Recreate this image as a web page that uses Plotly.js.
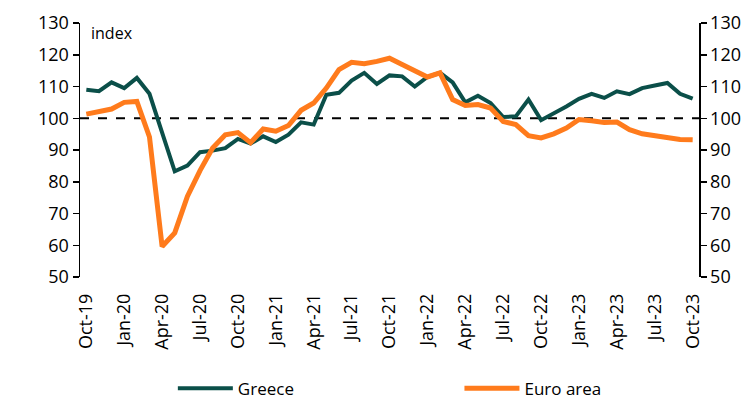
<!DOCTYPE html>
<html>
<head>
<meta charset="utf-8">
<script src="https://cdn.plot.ly/plotly-3.0.1.min.js"></script>
<style>html,body{margin:0;padding:0;background:#fff;}#chart{width:754px;height:403px;}</style>
</head>
<body>
<div id="chart"></div>
<script>
const months = ["Oct-19","Nov-19","Dec-19","Jan-20","Feb-20","Mar-20","Apr-20","May-20","Jun-20","Jul-20","Aug-20","Sep-20",
"Oct-20","Nov-20","Dec-20","Jan-21","Feb-21","Mar-21","Apr-21","May-21","Jun-21","Jul-21","Aug-21","Sep-21",
"Oct-21","Nov-21","Dec-21","Jan-22","Feb-22","Mar-22","Apr-22","May-22","Jun-22","Jul-22","Aug-22","Sep-22",
"Oct-22","Nov-22","Dec-22","Jan-23","Feb-23","Mar-23","Apr-23","May-23","Jun-23","Jul-23","Aug-23","Sep-23","Oct-23"];
const tickLabels = ["Oct-19","Jan-20","Apr-20","Jul-20","Oct-20","Jan-21","Apr-21","Jul-21","Oct-21","Jan-22","Apr-22","Jul-22","Oct-22","Jan-23","Apr-23","Jul-23","Oct-23"];
const greece = [109.0,108.5,111.3,109.5,112.7,107.7,95.5,83.3,85.1,89.3,89.8,90.6,
93.5,92.0,94.3,92.5,94.8,98.7,98.0,107.4,108.0,111.9,114.3,110.8,
113.5,113.2,110.0,113.0,114.3,111.3,105.0,107.1,104.8,100.4,100.6,105.9,
99.4,101.4,103.7,106.1,107.7,106.4,108.5,107.6,109.5,110.3,111.1,107.7,106.2];
const euroArea = [101.3,102.2,102.9,105.0,105.3,94.1,59.6,63.9,75.4,83.5,90.6,94.8,
95.5,92.3,96.6,95.9,97.7,102.5,104.8,109.5,115.3,117.6,117.2,117.9,
118.9,116.9,114.8,113.0,114.3,105.9,104.0,104.3,103.2,99.0,98.0,94.5,
93.8,95.1,96.9,99.6,99.2,98.7,98.8,96.4,95.1,94.5,93.6,93.3,93.2];
const yTicks = [50,60,70,80,90,100,110,120,130];

const FAM = "Open Sans, Noto Sans, sans-serif";
const font = {family: FAM, size: 18, color: "#000"};
const traces = [
  {x: months, y: greece, name: "Greece", type: "scatter", mode: "lines", legend: "legend",
   line: {color: "#0b4f49", width: 4}},
  {x: months, y: euroArea, name: "Euro area", type: "scatter", mode: "lines", legend: "legend2",
   line: {color: "#ff7b1c", width: 5}},
  {x: months, y: euroArea, yaxis: "y2", showlegend: false, hoverinfo: "skip",
   mode: "lines", line: {width: 0, color: "rgba(0,0,0,0)"}}
];
const yBase = {range: [50,130], tickvals: yTicks, ticks: "outside", ticklen: 6, tickwidth: 1.5,
  showline: true, linecolor: "#000", linewidth: 1.5, tickcolor: "#000", showgrid: false, zeroline: false,
  tickfont: font, fixedrange: true, automargin: false};
const legBase = {orientation: "h", xanchor: "left", y: -0.44, yanchor: "middle", itemwidth: 55,
  bgcolor: "rgba(0,0,0,0)", font: {family: FAM, size: 17, color: "#000"}};
const layout = {
  width: 754, height: 403,
  margin: {l: 80, r: 55, t: 23, b: 126, autoexpand: false},
  paper_bgcolor: "#fff", plot_bgcolor: "#fff",
  font: font,
  showlegend: true,
  legend: Object.assign({}, legBase, {x: 0.150}),
  legend2: Object.assign({}, legBase, {x: 0.613}),
  xaxis: {type: "category", categoryarray: months, tickvals: tickLabels, ticktext: tickLabels,
    range: [-0.5, months.length - 0.5], tickangle: -90, ticks: "", ticklabelstandoff: 12,
    showline: false, showgrid: false, tickfont: font, fixedrange: true, automargin: false},
  yaxis: Object.assign({}, yBase, {side: "left"}),
  yaxis2: Object.assign({}, yBase, {side: "right", overlaying: "y"}),
  shapes: [{type: "line", xref: "paper", x0: 0, x1: 1, yref: "y", y0: 100, y1: 100,
    line: {color: "#000", width: 2, dash: "dash"}, layer: "below"}],
  annotations: [{text: "index", xref: "paper", yref: "paper", x: 0.015, y: 0.96, xanchor: "left", yanchor: "middle",
    showarrow: false, font: {family: FAM, size: 16, color: "#000"}}]
};
Plotly.newPlot("chart", traces, layout, {staticPlot: true, displayModeBar: false});
</script>
</body>
</html>
